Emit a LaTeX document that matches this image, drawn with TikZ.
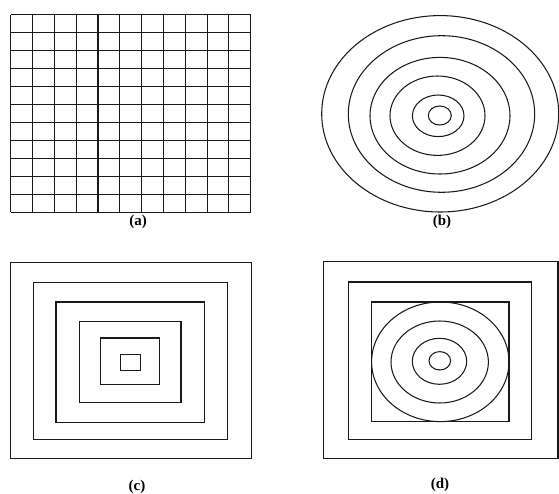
\documentclass[tikz,border=0pt]{standalone}
\usepackage{fontspec}
\setmainfont{Liberation Serif}
\usepackage{tikz}
\usetikzlibrary{positioning}

\begin{document}
\begin{tikzpicture}[x=1pt, y=-1pt,
  line/.style={black!90, line width=1.05pt},
  sublabel/.style={font=\fontsize{15}{17}\selectfont\bfseries, inner sep=0pt}]

  \useasboundingbox (0,0) rectangle (559,494);

  % (a) square grid
  \foreach \i in {0,...,11} {
    \draw[line] ({10.7+\i*21.82},14.7) -- ({10.7+\i*21.82},212);
    \draw[line] (10.7,{14.7+\i*17.94}) -- (250.7,{14.7+\i*17.94});
  }
  \node[sublabel] (capa) at (138,222) {(a)};

  % (b) concentric ellipses
  \foreach \cx/\cy/\rx/\ry in {440.2/113.8/118.5/98.2, 441.5/114/93.2/78.3,
      440/115.7/70/58.3, 437.5/115.7/47.5/39.7, 438.2/115.8/25.8/20.8,
      439.8/115.5/11.5/9.5}
    \draw[line] (\cx,\cy) ellipse [x radius=\rx, y radius=\ry];
  \node[sublabel] (capb) at (442,222) {(b)};

  % (c) nested rectangles
  \foreach \xa/\ya/\xb/\yb in {10.7/262.3/251.7/458.3, 33.3/282.3/227.7/439.3,
      56/302/204.3/422.7, 79.3/321.7/181/402.7, 100.7/338/159.7/384.7,
      120.7/354.7/140.3/370.3}
    \draw[line] (\xa,\ya) rectangle (\xb,\yb);
  \node[sublabel] (capc) at (137,487) {(c)};

  % (d) rectangles with ellipses inside
  \foreach \xa/\ya/\xb/\yb in {323.3/261.7/558/458.3, 348.3/282/531.7/439.3,
      371.7/302/509/421.7}
    \draw[line] (\xa,\ya) rectangle (\xb,\yb);
  \foreach \cx/\cy/\rx/\ry in {440.3/361.8/68.7/59.8, 439.7/362/48.7/41,
      439.5/361.3/27.2/23, 439.8/360.8/10.8/9.2}
    \draw[line] (\cx,\cy) ellipse [x radius=\rx, y radius=\ry];
  \node[sublabel] (capd) at (440,485) {(d)};
\end{tikzpicture}
\end{document}
